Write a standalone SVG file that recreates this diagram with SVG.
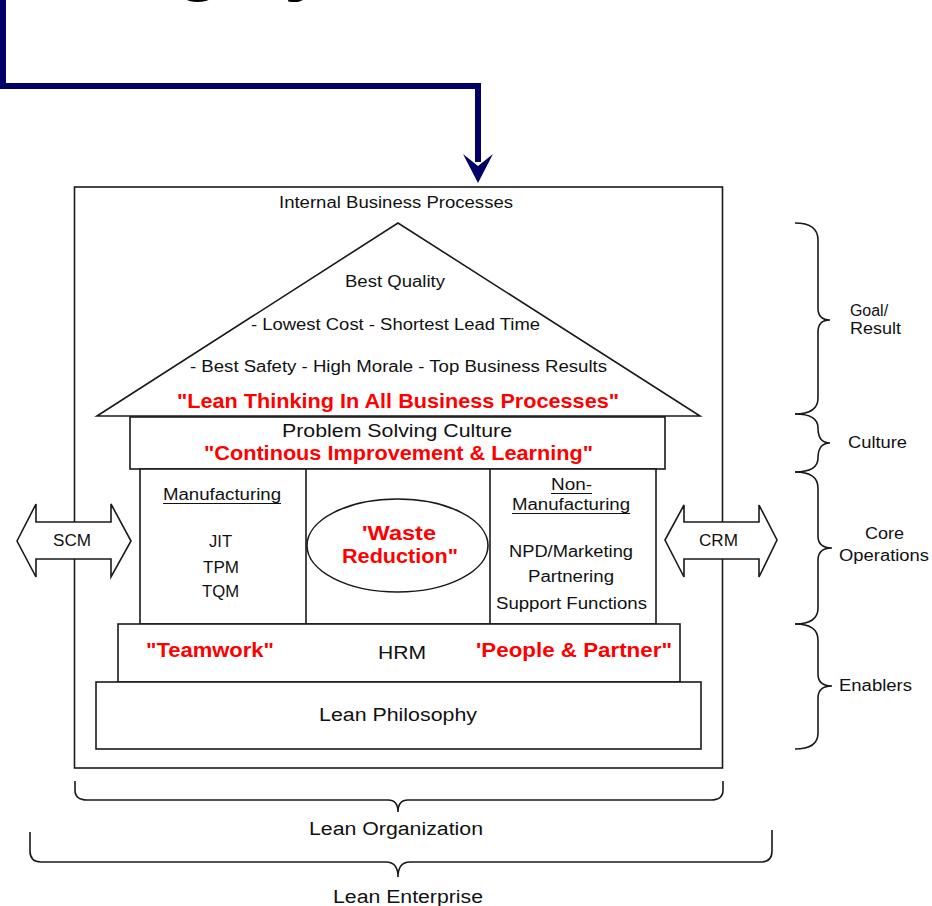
<svg xmlns="http://www.w3.org/2000/svg" width="932" height="906" viewBox="0 0 932 906">
<style>
.ln{fill:none;stroke:#1a1a1a;stroke-width:1.6}
.bx{fill:#fff;stroke:#1a1a1a;stroke-width:1.6}
.t{font-family:"Liberation Sans",Arial,sans-serif;font-size:16px;fill:#111}
.m{font-size:18px}
.r{font-family:"Liberation Sans",Arial,sans-serif;font-weight:bold;font-size:20px;fill:#ff0000}
.ul{stroke:#111;stroke-width:1.2}
.nv{fill:none;stroke:#000066;stroke-width:6}
</style>
<rect width="932" height="906" fill="#fff"/>
<g id="title-fragment" font-family="Liberation Sans,Arial,sans-serif" font-weight="bold" font-size="80">
<text x="174" y="-15" fill="#000">g</text>
<text x="172" y="-17" fill="#3366ff">g</text>
<text x="284" y="-15" fill="#000">y</text>
<text x="282" y="-17" fill="#3366ff">y</text>
</g>
<g id="connectors">
<path class="nv" d="M3,0 L3,86 L478,86 L478,162"/>
<polygon points="478,183 463,154 478,166 493,154" fill="#000066"/>
</g>
<g id="outer-box">
<rect class="ln" x="74.5" y="187" width="648" height="581"/>
<text class="t" x="279" y="208" textLength="234" lengthAdjust="spacingAndGlyphs">Internal Business Processes</text>
</g>
<g id="roof">
<polygon class="bx" points="97,416 398,223 700,416"/>
<text class="t" x="345" y="287" textLength="100" lengthAdjust="spacingAndGlyphs">Best Quality</text>
<text class="t" x="251" y="330" textLength="289" lengthAdjust="spacingAndGlyphs">- Lowest Cost - Shortest Lead Time</text>
<text class="t" x="190" y="372" textLength="417" lengthAdjust="spacingAndGlyphs">- Best Safety - High Morale - Top Business Results</text>
<text class="r" x="177" y="408" font-size="21" textLength="442" lengthAdjust="spacingAndGlyphs">"Lean Thinking In All Business Processes"</text>
</g>
<g id="culture">
<rect class="bx" x="130" y="417" width="535" height="52"/>
<text class="t m" x="282" y="437" font-size="19" textLength="230" lengthAdjust="spacingAndGlyphs">Problem Solving Culture</text>
<text class="r" x="204" y="460" font-size="21" textLength="389" lengthAdjust="spacingAndGlyphs">"Continous Improvement &amp; Learning"</text>
</g>
<g id="core">
<rect class="bx" x="140" y="469" width="516" height="155"/>
<line class="ln" x1="306" y1="469" x2="306" y2="624"/>
<line class="ln" x1="490" y1="469" x2="490" y2="624"/>
</g>
<g id="manufacturing">
<text class="t" x="163" y="500" textLength="118" lengthAdjust="spacingAndGlyphs">Manufacturing</text>
<line class="ul" x1="163" y1="503.5" x2="281" y2="503.5"/>
<text class="t" x="209" y="547" textLength="23" lengthAdjust="spacingAndGlyphs">JIT</text>
<text class="t" x="203" y="573" textLength="36" lengthAdjust="spacingAndGlyphs">TPM</text>
<text class="t" x="202" y="597" textLength="37" lengthAdjust="spacingAndGlyphs">TQM</text>
</g>
<g id="waste-reduction">
<ellipse class="ln" cx="397.5" cy="545.5" rx="90.5" ry="46.5"/>
<text class="r" x="362" y="540" textLength="74" lengthAdjust="spacingAndGlyphs">'Waste</text>
<text class="r" x="342" y="563" textLength="116" lengthAdjust="spacingAndGlyphs">Reduction"</text>
</g>
<g id="non-manufacturing">
<text class="t" x="551" y="490" textLength="41" lengthAdjust="spacingAndGlyphs">Non-</text>
<line class="ul" x1="551" y1="493.5" x2="592" y2="493.5"/>
<text class="t" x="512" y="510" textLength="118" lengthAdjust="spacingAndGlyphs">Manufacturing</text>
<line class="ul" x1="512" y1="513.5" x2="630" y2="513.5"/>
<text class="t" x="509" y="557" textLength="124" lengthAdjust="spacingAndGlyphs">NPD/Marketing</text>
<text class="t" x="528" y="582" textLength="86" lengthAdjust="spacingAndGlyphs">Partnering</text>
<text class="t" x="496" y="609" textLength="151" lengthAdjust="spacingAndGlyphs">Support Functions</text>
</g>
<g id="scm">
<polygon class="bx" points="17,541 36,504 36,522 111,522 111,504 131,541 111,577 111,559 36,559 36,577"/>
<text class="t" x="53" y="546" textLength="38" lengthAdjust="spacingAndGlyphs">SCM</text>
</g>
<g id="crm">
<polygon class="bx" points="665,540 684,505 684,522 759,522 759,505 777,540 759,577 759,559 684,559 684,577"/>
<text class="t" x="699" y="546" textLength="39" lengthAdjust="spacingAndGlyphs">CRM</text>
</g>
<g id="hrm">
<rect class="bx" x="118" y="624" width="562" height="58"/>
<text class="r" x="146" y="657" textLength="128" lengthAdjust="spacingAndGlyphs">"Teamwork"</text>
<text class="t m" x="378" y="659" textLength="48" lengthAdjust="spacingAndGlyphs">HRM</text>
<text class="r" x="476" y="657" textLength="196" lengthAdjust="spacingAndGlyphs">'People &amp; Partner"</text>
</g>
<g id="lean-philosophy">
<rect class="bx" x="96" y="682" width="605" height="67"/>
<text class="t m" x="319" y="721" textLength="158" lengthAdjust="spacingAndGlyphs">Lean Philosophy</text>
</g>
<g id="brace-goal">
<path class="ln" d="M795,223 Q818,223 818,240 L818,308 Q818,320 830,320 Q818,320 818,332 L818,398 Q818,414 795,414"/>
<text class="t" x="869" y="316" text-anchor="middle">Goal/</text>
<text class="t" x="850" y="334" textLength="51" lengthAdjust="spacingAndGlyphs">Result</text>
</g>
<g id="brace-culture">
<path class="ln" d="M795,414 Q818,414 818,428 Q818,443 830,443 Q818,443 818,458 Q818,472 795,472"/>
<text class="t" x="848" y="448" textLength="59" lengthAdjust="spacingAndGlyphs">Culture</text>
</g>
<g id="brace-core">
<path class="ln" d="M795,472 Q818,472 818,488 L818,536 Q818,548 832,548 Q818,548 818,560 L818,608 Q818,624 795,624"/>
<text class="t" x="865" y="539" textLength="39" lengthAdjust="spacingAndGlyphs">Core</text>
<text class="t" x="839" y="561" textLength="90" lengthAdjust="spacingAndGlyphs">Operations</text>
</g>
<g id="brace-enablers">
<path class="ln" d="M795,624 Q818,624 818,640 L818,674 Q818,686 832,686 Q818,686 818,698 L818,733 Q818,749 795,749"/>
<text class="t" x="839" y="691" textLength="73" lengthAdjust="spacingAndGlyphs">Enablers</text>
</g>
<g id="brace-organization">
<path class="ln" d="M75,781 L75,790 Q75,800 87,800 L388,800 Q398,800 398,812 Q398,800 408,800 L711,800 Q723,800 723,790 L723,781"/>
<text class="t m" x="309" y="835" textLength="174" lengthAdjust="spacingAndGlyphs">Lean Organization</text>
</g>
<g id="brace-enterprise">
<path class="ln" d="M30,832 L30,851 Q30,862 41,862 L386,862 Q398,862 398,877 Q398,862 410,862 L761,862 Q772,862 772,851 L772,830"/>
<text class="t m" x="333" y="903" textLength="150" lengthAdjust="spacingAndGlyphs">Lean Enterprise</text>
</g>
</svg>
